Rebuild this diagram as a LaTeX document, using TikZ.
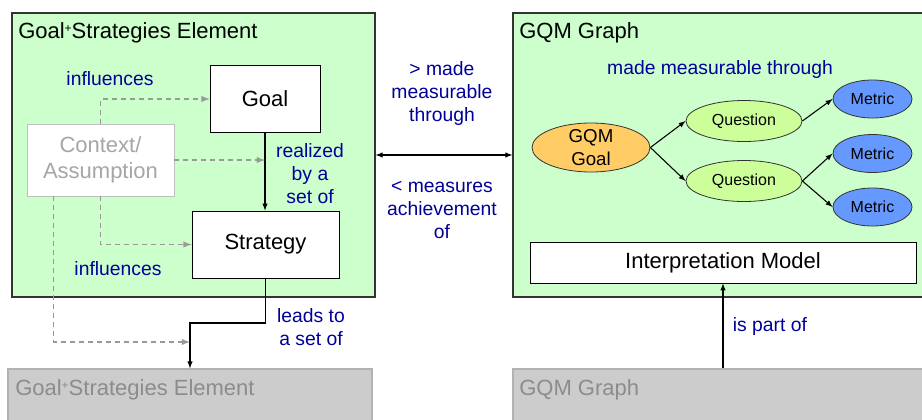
\documentclass[tikz,border=0pt]{standalone}
\usepackage{fontspec}
\setmainfont{Liberation Sans}
\usetikzlibrary{calc,positioning,arrows,shapes}

\definecolor{panelgreen}{HTML}{CCFFCC}
\definecolor{relblue}{HTML}{000099}
\definecolor{dashgray}{HTML}{999999}
\definecolor{ctxgray}{HTML}{A6A6A6}
\definecolor{boxgray}{HTML}{CCCCCC}
\definecolor{goalorange}{HTML}{FFCC66}
\definecolor{questiongreen}{HTML}{CCFF99}
\definecolor{metricblue}{HTML}{6699FF}
\newcommand{\gsplus}{\raisebox{0.55ex}{\fontsize{9}{9}\selectfont+}}

\begin{document}
\begin{tikzpicture}[x=0.75pt,y=-0.75pt,
    panel/.style={draw=black!80,fill=panelgreen,line width=0.9pt,minimum height=213pt,inner sep=0pt},
    graybox/.style={draw=black!30,fill=boxgray,line width=0.9pt,minimum height=45.75pt,inner sep=0pt},
    title/.style={anchor=west,inner sep=0pt,font=\fontsize{16.5}{19}\selectfont},
    box/.style={draw=black,fill=white,line width=0.6pt,inner sep=0pt,font=\fontsize{16.5}{19}\selectfont},
    ctxbox/.style={draw=black!25,fill=white,text=ctxgray,line width=0.6pt,inner sep=0pt,align=center,minimum width=110.25pt,minimum height=54pt,font=\fontsize{16.5}{19.5}\selectfont},
    rel/.style={text=relblue,align=center,font=\fontsize{14.5}{17.25}\selectfont},
    flow/.style={->,>=latex,black,line width=0.8pt},
    ctxarrow/.style={->,>=latex,dashgray,line width=1.1pt,dash pattern=on 3.75pt off 3pt},
    gqmgoal/.style={ellipse,draw=black!80,fill=goalorange,line width=0.6pt,inner sep=0pt,minimum width=88.5pt,minimum height=36.75pt},
    question/.style={ellipse,draw=black!80,fill=questiongreen,line width=0.6pt,inner sep=0pt,minimum width=87pt,minimum height=30.75pt,font=\fontsize{12}{14}\selectfont},
    metric/.style={ellipse,draw=black!80,fill=metricblue,line width=0.6pt,inner sep=0pt,minimum width=59.25pt,minimum height=28.5pt,font=\fontsize{12}{14}\selectfont}]
    \path[use as bounding box,clip] (0,0) rectangle (922,419);

    % panels
    \node[panel,minimum width=272.25pt] (gselem) at (193.5,155) {};
    \node[panel,minimum width=312.75pt] (gqmgraph) at (721.5,155) {};
    \node[graybox,minimum width=273pt] (gsnext) at (190,399.5) {};
    \node[graybox,minimum width=312.75pt] (gqmnext) at (721.5,399.5) {};
    \node[title] at (18,33) {Goal\gsplus Strategies Element};
    \node[title] at (519,33) {GQM Graph};
    \node[title,text=black!45] at (15,390) {Goal\gsplus Strategies Element};
    \node[title,text=black!45] at (519,390) {GQM Graph};

    % goal and strategy
    \node[box,minimum width=82.5pt,minimum height=50.25pt] (goal) at (265,99) {Goal};
    \node[box,minimum width=110.25pt,minimum height=50.25pt] (strategy) at (265.5,244.5) {Strategy};
    \node[ctxbox] (ctx) at (100.5,160) {Context/\\Assumption};
    \coordinate (turn) at (190,323);
    \coordinate (ctxend) at (turn |- 0,342);

    \draw[flow] (goal.south) -- (goal.south |- strategy.north);
    \draw[flow] (strategy.south) |- (turn) -- (turn |- gsnext.north);
    \draw[ctxarrow] (ctx.north) |- (goal.west);
    \draw[ctxarrow] (ctx.east) -- (ctx.east -| goal.south);
    \draw[ctxarrow] (ctx.south) |- (strategy.west);
    \draw[ctxarrow] ($(ctx.south west)+(27,0)$) |- (ctxend);

    \node[rel] at (110,79) {influences};
    \node[rel] at (118,269) {influences};
    \node[rel] at (310,174) {realized\\by a\\set of};
    \node[rel] at (311,327) {leads to\\a set of};

    % between the panels
    \draw[flow,latex-latex] (gselem.east) -- (gqmgraph.west);
    \node[rel] at (442,93) {> made\\measurable\\through};
    \node[rel] at (442,210) {< measures\\achievement\\of};

    % gqm graph
    \node[gqmgoal,label={[align=center,font=\fontsize{14}{17.25}\selectfont]center:GQM\\Goal}] (gg) at (591,147.5) {};
    \node[question] (q1) at (744,121) {Question};
    \node[question] (q2) at (744,181) {Question};
    \node[metric] (m1) at (872.5,99) {Metric};
    \node[metric] (m2) at (872.5,153.5) {Metric};
    \node[metric] (m3) at (872.5,207) {Metric};
    \draw[flow] (gg.east) -- (q1.west);
    \draw[flow] (gg.east) -- (q2.west);
    \draw[flow] (q1.east) -- (m1.west);
    \draw[flow] (q2.east) -- (m2.west);
    \draw[flow] (q2.east) -- (m3.west);
    \node[rel] at (720,69) {made measurable through};

    \node[box,minimum width=289.5pt,minimum height=30.75pt] (interp) at (723,262.5) {Interpretation Model};
    \draw[flow] (interp.south |- gqmnext.north) -- (interp.south);
    \node[rel] at (770,326) {is part of};
\end{tikzpicture}
\end{document}
